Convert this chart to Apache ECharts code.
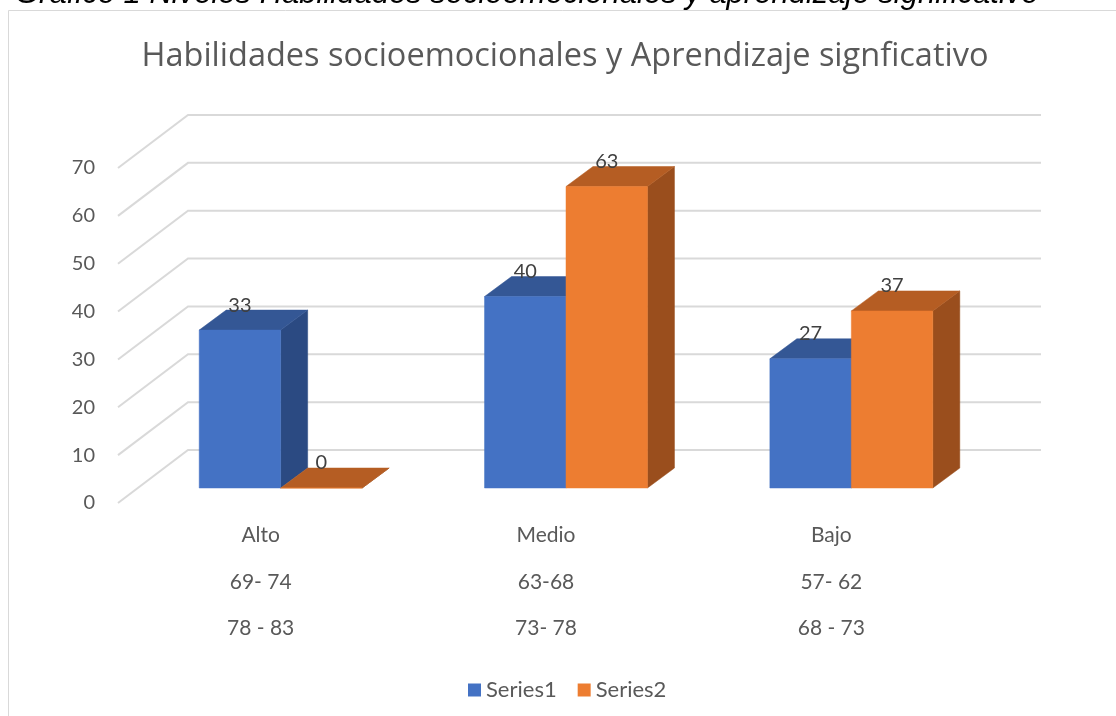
<!DOCTYPE html>
<html><head><meta charset="utf-8">
<script src="https://cdn.jsdelivr.net/npm/echarts@6/dist/echarts.min.js"></script>
<style>html,body{margin:0;padding:0;background:#fff;overflow:hidden}#c{width:1116px;height:716px}</style>
</head><body><div id="c"></div>
<script>
// ---- data ----
const categories = ['Alto', 'Medio', 'Bajo'];
const rangeRow1 = ['69- 74', '63-68', '57- 62'];
const rangeRow2 = ['78 - 83', '73- 78', '68 - 73'];
const series1 = [33, 40, 27];
const series2 = [0, 63, 37];
const seriesNames = ['Series1', 'Series2'];
const yTicks = [0, 10, 20, 30, 40, 50, 60, 70];
const chartTitle = 'Habilidades socioemocionales y Aprendizaje signficativo';
const caption = 'Gráfico 1 Niveles Habilidades socioemocionales y aprendizaje significativo';

// ---- styling / geometry ----
const FONT = 'Lato';
const TXT = '#595959';
const FLOOR_DX = 70, FLOOR_DY = 53;   // full depth of the 3D floor (front edge -> back wall)
const BAR_DX = 27, BAR_DY = 20;       // depth of a bar
const BAR_FRAC = 0.2855;              // bar width as fraction of category band
const palette = [
  { front: '#4472C4', top: '#345795', side: '#2B4A82' },
  { front: '#ED7D31', top: '#B55D23', side: '#9A4E1D' }
];

const chart = echarts.init(document.getElementById('c'), null, { renderer: 'canvas' });

function barSeries(idx, values) {
  const col = palette[idx];
  return {
    type: 'custom', name: seriesNames[idx], xAxisIndex: 0, yAxisIndex: 0,
    itemStyle: { color: col.front },
    data: values.map((v, i) => [i, v]),
    z: 2,
    renderItem: function (params, api) {
      const i = api.value(0), v = api.value(1);
      const c = api.coord([i, v]);
      const b = api.coord([i, 0]);
      const bw = api.size([1, 0])[0] * BAR_FRAC;
      const x0 = idx === 0 ? c[0] - bw : c[0];
      const x1 = x0 + bw;
      const yt = c[1], yb = b[1];
      return {
        type: 'group',
        children: [
          { type: 'polygon', shape: { points: [[x1, yt], [x1 + BAR_DX, yt - BAR_DY], [x1 + BAR_DX, yb - BAR_DY], [x1, yb]] },
            style: { fill: col.side, stroke: col.side, lineWidth: 0.5 } },
          { type: 'polygon', shape: { points: [[x0, yt], [x0 + BAR_DX, yt - BAR_DY], [x1 + BAR_DX, yt - BAR_DY], [x1, yt]] },
            style: { fill: col.top, stroke: col.top, lineWidth: 0.5 } },
          { type: 'rect', shape: { x: x0, y: yt, width: bw, height: yb - yt },
            style: { fill: col.front, stroke: col.front, lineWidth: 0.5 } }
        ]
      };
    }
  };
}

function labelSeries(idx, values) {
  return {
    type: 'custom', name: seriesNames[idx] + '_lbl', xAxisIndex: 0, yAxisIndex: 0,
    data: values.map((v, i) => [i, v]),
    z: 5, silent: true,
    renderItem: function (params, api) {
      const i = api.value(0), v = api.value(1);
      const c = api.coord([i, v]);
      const bw = api.size([1, 0])[0] * BAR_FRAC;
      const cx = idx === 0 ? c[0] - bw / 2 : c[0] + bw / 2;
      return {
        type: 'text',
        style: { x: cx, y: c[1] - 25, text: String(v), align: 'center', verticalAlign: 'middle',
                 fill: '#404040', font: '20px ' + FONT }
      };
    }
  };
}

const option = {
  animation: false,
  backgroundColor: '#fff',
  title: {
    text: chartTitle, left: 560, top: 35, textAlign: 'center',
    textStyle: { fontFamily: 'Open Sans', fontSize: 32.5, fontWeight: 'normal', color: TXT }
  },
  legend: {
    data: seriesNames, top: 674, left: 463,
    icon: 'rect', itemWidth: 13, itemHeight: 13, itemGap: 21,
    textStyle: { fontFamily: FONT, fontSize: 22, color: TXT },
    selectedMode: false
  },
  graphic: [
    { type: 'rect', shape: { x: 8.5, y: 10.5, width: 1200, height: 800 },
      style: { fill: 'none', stroke: '#D9D9D9', lineWidth: 1 }, z: -1 },
    { type: 'text', x: 15, y: -6,
      style: { text: caption, font: 'italic 31px "Liberation Sans"', fill: '#000', verticalAlign: 'middle' } }
  ],
  grid: [
    { left: 138, top: 153, width: 856, height: 335 },   // bar front plane
    { left: 118, top: 168, width: 856, height: 335 }    // front edge plane (labels)
  ],
  xAxis: [
    { gridIndex: 0, type: 'category', data: categories, show: false },
    { gridIndex: 1, type: 'category', data: categories,
      axisLine: { show: false }, axisTick: { show: false },
      axisLabel: { margin: 9, lineHeight: 46.5, fontFamily: FONT, fontSize: 21, color: TXT,
        formatter: (val, i) => [categories[i], rangeRow1[i], rangeRow2[i]].join('\n') } }
  ],
  yAxis: [
    { gridIndex: 0, type: 'value', min: 0, max: 70, interval: 10, show: false },
    { gridIndex: 1, type: 'value', min: 0, max: 70, interval: 10,
      axisLine: { show: false }, axisTick: { show: false }, splitLine: { show: false },
      axisLabel: { margin: 23, fontFamily: FONT, fontSize: 20, color: TXT } }
  ],
  series: [
    {
      type: 'custom', name: 'grid3d', xAxisIndex: 1, yAxisIndex: 1, silent: true, z: 1,
      data: yTicks.map(v => [0, v]),
      renderItem: function (params, api) {
        const p = api.coord([0, api.value(1)]);
        const band = api.size([1, 0])[0];
        const x0 = p[0] - band / 2, y0 = p[1];
        const x1 = x0 + FLOOR_DX, y1 = y0 - FLOOR_DY;
        const x2 = x1 + band * categories.length - 3;
        return {
          type: 'polyline',
          shape: { points: [[x0, y0], [x1, y1], [x2, y1]] },
          style: { stroke: '#D9D9D9', lineWidth: 2, fill: null }
        };
      }
    },
    barSeries(0, series1),
    barSeries(1, series2),
    labelSeries(0, series1),
    labelSeries(1, series2)
  ]
};
chart.setOption(option);
</script>
</body></html>
